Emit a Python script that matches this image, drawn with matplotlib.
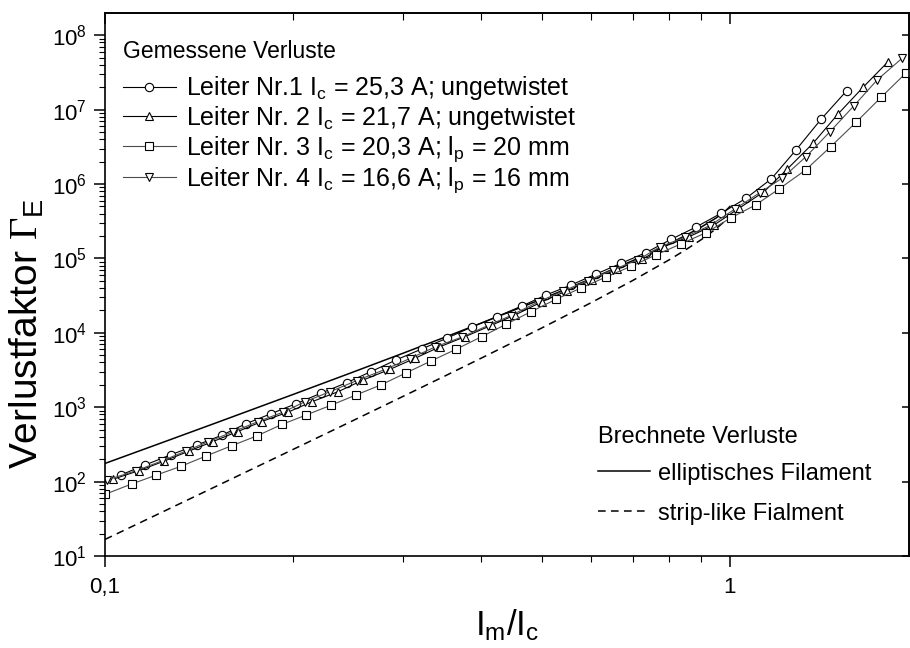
import matplotlib
matplotlib.use("Agg")
import matplotlib.pyplot as plt
from matplotlib.ticker import LogLocator, NullFormatter, FixedLocator

plt.rcParams['font.family'] = ['Liberation Sans', 'DejaVu Sans']
plt.rcParams['mathtext.fontset'] = 'custom'
plt.rcParams['mathtext.rm'] = 'Liberation Serif'
plt.rcParams['mathtext.sf'] = 'Liberation Sans'
plt.rcParams['mathtext.it'] = 'Liberation Sans:italic'

# measured loss factor, Im/Ic vs Gamma_E
x1 = [0.1060, 0.1159, 0.1275, 0.1402, 0.1537, 0.1681, 0.1844, 0.2021, 0.2214, 0.2436,
      0.2662, 0.2921, 0.3211, 0.3521, 0.3862, 0.4235, 0.4643, 0.5078, 0.5568, 0.6106,
      0.6695, 0.7342, 0.8050, 0.8826, 0.9674, 1.0607, 1.1652, 1.2751, 1.3984, 1.5373]
y1 = [123, 167, 230, 310, 419, 600, 818, 1114, 1538, 2135,
      3001, 4310, 6058, 8436, 11970, 16460, 22920, 32230, 43890, 61700,
      85950, 120000, 180600, 264200, 403800, 642300, 1.178e6, 2.864e6, 7.406e6, 1.795e7]

x2 = [0.1031, 0.1135, 0.1244, 0.1364, 0.1489, 0.1631, 0.1781, 0.1965, 0.2144, 0.2360,
      0.2588, 0.2858, 0.3133, 0.3436, 0.3767, 0.4162, 0.4529, 0.5004, 0.5487, 0.6016,
      0.6597, 0.7233, 0.7843, 0.8600, 0.9428, 1.0337, 1.1335, 1.2338, 1.3578, 1.4888,
      1.6326, 1.7901]
y2 = [108, 141, 189, 258, 346, 471, 642, 862, 1186, 1616,
      2320, 3232, 4543, 6506, 8863, 12730, 17350, 26180, 36800, 51250,
      71370, 97250, 143700, 195700, 281100, 471400, 787900, 1.576e6, 3.524e6, 8.728e6,
      1.994e7, 4.403e7]

x3 = [0.1000, 0.1103, 0.1205, 0.1323, 0.1451, 0.1595, 0.1748, 0.1918, 0.2098, 0.2297,
      0.2521, 0.2761, 0.3030, 0.3323, 0.3644, 0.4005, 0.4380, 0.4803, 0.5267, 0.5776,
      0.6333, 0.6946, 0.7616, 0.8339, 0.9154, 1.0025, 1.1005, 1.1979, 1.3213, 1.4490,
      1.5911, 1.7446, 1.9101]
y3 = [67.5, 92.8, 121.5, 160.6, 220.9, 303.8, 410, 585.6, 785.6, 1060,
      1459, 1988, 2882, 4178, 6000, 8863, 13010, 19210, 28200, 40010,
      56230, 78290, 111800, 156100, 221500, 349100, 527000, 856800, 1.543e6, 3.172e6,
      6.75e6, 1.464e7, 3.075e7]

x4 = [0.1006, 0.1121, 0.1232, 0.1348, 0.1463, 0.1604, 0.1755, 0.1924, 0.2089, 0.2291,
      0.2530, 0.2805, 0.3076, 0.3373, 0.3726, 0.4101, 0.4462, 0.4930, 0.5407, 0.5928,
      0.6500, 0.7127, 0.7727, 0.8472, 0.9290, 1.0186, 1.1169, 1.2113, 1.3230, 1.4454,
      1.5792, 1.7192, 1.8846]
y4 = [105, 140, 189, 258, 344, 469, 638, 854, 1186, 1616,
      2285, 3212, 4514, 6445, 8780, 12530, 17080, 25940, 36460, 50470,
      70490, 96050, 142300, 193900, 276800, 461300, 768800, 1.193e6, 2.328e6, 5.047e6,
      1.128e7, 2.499e7, 4.893e7]

# calculated losses (Norris), elliptic and strip-like filament
F_calc = [0.1, 0.125, 0.15, 0.2, 0.25, 0.3, 0.35, 0.4, 0.5, 0.6, 0.7, 0.8, 0.85, 0.9,
          0.95, 0.98, 1.0]
ellipse = [175.5, 347.5, 608.9, 1485, 2988, 5328, 8741, 13505, 28426, 53484, 93808,
           158112, 204182, 264741, 348963, 421560, 500000]
strip = [16.7, 40.9, 85.1, 271.0, 667.9, 1401, 2632, 4566, 11624, 25490, 50876,
         96128, 131025, 179264, 249981, 313891, 386294]

labels = [
    r'Leiter Nr.1 I$_\mathsf{c}$ = 25,3 A; ungetwistet',
    r'Leiter Nr. 2 I$_\mathsf{c}$ = 21,7 A; ungetwistet',
    r'Leiter Nr. 3 I$_\mathsf{c}$ = 20,3 A; l$_\mathsf{p}$ = 20 mm',
    r'Leiter Nr. 4 I$_\mathsf{c}$ = 16,6 A; l$_\mathsf{p}$ = 16 mm',
]

fig = plt.figure(figsize=(9.1, 6.48), dpi=100)
ax = fig.add_axes([105 / 910, 1 - 556 / 648, 804 / 910, 543 / 648])
ax.set_xscale('log')
ax.set_yscale('log')
ax.set_xlim(0.1, 1.934)
ax.set_ylim(10, 1.99e8)

l_ell, = ax.plot(F_calc, ellipse, color='black', lw=1.1, label='elliptisches Filament')
l_str, = ax.plot(F_calc, strip, color='black', lw=1.1, dashes=(5, 3.5),
                 label='strip-like Fialment')

mk = dict(ms=6, mfc='white', mec='black', mew=0.8)
h1, = ax.plot(x1, y1, '-o', color='black', lw=0.8, label=labels[0], **mk)
h2, = ax.plot(x2, y2, '-^', color='black', lw=0.8, label=labels[1], **mk)
h3, = ax.plot(x3, y3, '-s', color='0.3', lw=0.8, label=labels[2], **mk)
h4, = ax.plot(x4, y4, '-v', color='0.3', lw=0.8, label=labels[3], **mk)

# axis ticks: outward on bottom/left
ax.set_xticks([0.1, 1], ['0,1', '1'])
ax.xaxis.set_minor_locator(LogLocator(subs=range(2, 10), numticks=20))
ax.xaxis.set_minor_formatter(NullFormatter())
ax.set_yticks([10 ** k for k in range(1, 9)],
              [r'$\mathsf{10^{%d}}$' % k for k in range(1, 9)])
ax.yaxis.set_minor_locator(LogLocator(subs=range(2, 10), numticks=20))
ax.yaxis.set_minor_formatter(NullFormatter())
ax.tick_params(which='major', direction='out', length=8, width=1.1, labelsize=16, pad=5)
ax.tick_params(which='minor', direction='out', length=4, width=0.8)
ax.tick_params(axis='x', which='major', pad=7)

# mirrored top/right axes with inward ticks
top = ax.secondary_xaxis('top')
top.set_xticks([0.1, 1])
top.xaxis.set_minor_locator(LogLocator(subs=range(2, 10), numticks=20))
top.xaxis.set_minor_formatter(NullFormatter())
top.tick_params(which='major', direction='in', length=8, width=1.1, labeltop=False)
top.tick_params(which='minor', direction='in', length=5, width=0.8)
right = ax.secondary_yaxis('right')
right.set_yticks([10 ** k for k in range(1, 9)])
right.yaxis.set_minor_locator(FixedLocator([]))
right.tick_params(which='major', direction='in', length=5, width=1.1, labelright=False)

for s in list(ax.spines.values()) + [top.spines['top'], right.spines['right']]:
    s.set_linewidth(1.2)

ax.set_xlabel(r'$\mathsf{I_m/I_c}$', fontsize=25, labelpad=7)
ax.set_ylabel(r'Verlustfaktor $\Gamma_{\mathsf{E}}$', fontsize=28)
ax.yaxis.set_label_coords(-0.074, 0.41)

# measured-loss legend, title drawn as its own text
ax.text(0.0224, 0.929, 'Gemessene Verluste', transform=ax.transAxes,
        fontsize=16.5, ha='left', va='center')
leg1 = ax.legend(handles=[h1, h2, h3, h4], loc='upper left', frameon=False,
                 fontsize=18, handlelength=2.1, handletextpad=0.4,
                 labelspacing=0.07, borderaxespad=0, borderpad=0, numpoints=1,
                 bbox_to_anchor=(0.0224, 0.887))
ax.add_artist(leg1)

# calculated-loss legend
ax.text(0.613, 0.219, 'Brechnete Verluste', transform=ax.transAxes,
        fontsize=17, ha='left', va='center')
ax.legend(handles=[l_ell, l_str], loc='upper left', frameon=False, fontsize=17,
          handlelength=2.2, handletextpad=0.35, labelspacing=0.76,
          borderaxespad=0, borderpad=0, bbox_to_anchor=(0.613, 0.172))

fig.savefig('out.png', dpi=100)
